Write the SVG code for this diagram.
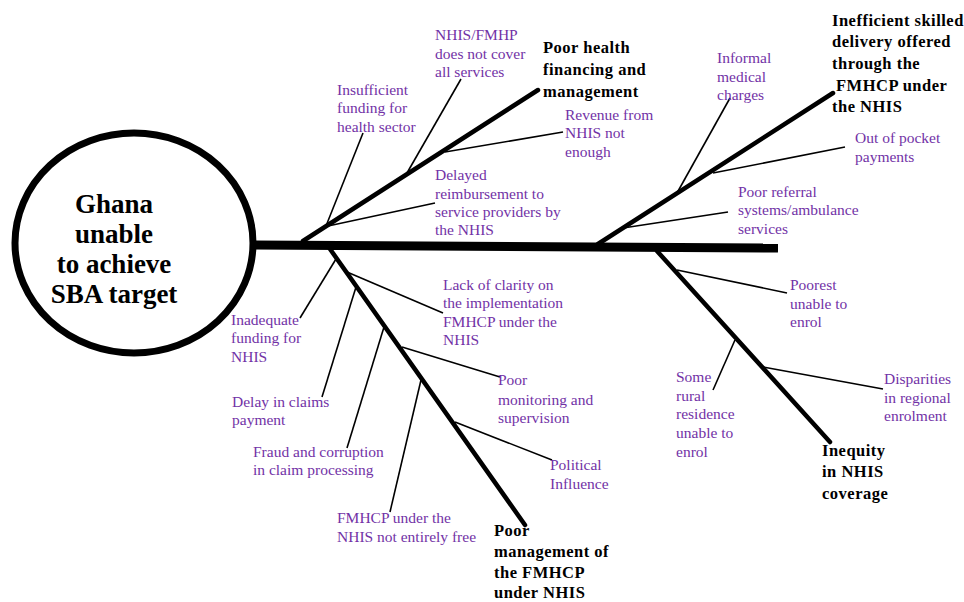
<svg xmlns="http://www.w3.org/2000/svg" width="964" height="602" viewBox="0 0 964 602">
<style>
text{font-family:'Liberation Serif','Times New Roman',serif}
.sub{font-size:15.5px;fill:#7232A6}
.cat{font-size:16.5px;font-weight:bold;fill:#000;letter-spacing:0.5px}
.head{font-size:27px;font-weight:bold;fill:#000;text-anchor:middle}
.spine{stroke:#000;stroke-width:9;fill:none}
.bone{stroke:#000;stroke-width:4.5;fill:none;stroke-linecap:round}
.rib{stroke:#000;stroke-width:1.6;fill:none}
</style>
<rect width="964" height="602" fill="#fff"/>
<g id="connectors">
<line class="spine" x1="252" y1="245" x2="778" y2="248"/>
<line class="bone" x1="303" y1="241" x2="538" y2="90"/>
<line class="bone" x1="598" y1="244" x2="833" y2="93"/>
<line class="bone" x1="330" y1="249" x2="525" y2="525"/>
<line class="bone" x1="657" y1="251" x2="830" y2="442"/>
<line class="rib" x1="326" y1="226" x2="363" y2="133"/>
<line class="rib" x1="407" y1="173" x2="461" y2="79"/>
<line class="rib" x1="445" y1="152" x2="563" y2="132"/>
<line class="rib" x1="328" y1="226" x2="435" y2="203"/>
<line class="rib" x1="677" y1="193" x2="730" y2="98"/>
<line class="rib" x1="713" y1="173" x2="845" y2="147"/>
<line class="rib" x1="623" y1="228" x2="728" y2="212"/>
<line class="rib" x1="336" y1="259" x2="300" y2="318"/>
<line class="rib" x1="356" y1="287" x2="322" y2="397"/>
<line class="rib" x1="384" y1="327" x2="347" y2="448"/>
<line class="rib" x1="421" y1="380" x2="390" y2="512"/>
<line class="rib" x1="347" y1="272" x2="443" y2="313"/>
<line class="rib" x1="402" y1="347" x2="500" y2="377"/>
<line class="rib" x1="455" y1="422" x2="552" y2="460"/>
<line class="rib" x1="677" y1="270" x2="787" y2="293"/>
<line class="rib" x1="735" y1="340" x2="713" y2="390"/>
<line class="rib" x1="763" y1="367" x2="883" y2="389"/>
</g>
<g id="head">
<ellipse cx="134" cy="243" rx="119" ry="110" fill="#fff" stroke="#000" stroke-width="7"/>
<text class="head"><tspan x="114" y="213">Ghana</tspan><tspan x="114" y="243">unable</tspan><tspan x="114" y="273">to achieve</tspan><tspan x="114" y="303">SBA target</tspan></text>
</g>
<g id="cat-financing"><text class="cat"><tspan x="543" y="53">Poor health</tspan><tspan x="543" y="75">financing and</tspan><tspan x="543" y="97">management</tspan></text></g>
<g id="cat-delivery"><text class="cat"><tspan x="832" y="26">Inefficient skilled</tspan><tspan x="832" y="47">delivery offered</tspan><tspan x="832" y="69">through the</tspan><tspan x="836" y="91">FMHCP under</tspan><tspan x="832" y="112">the NHIS</tspan></text></g>
<g id="cat-management"><text class="cat"><tspan x="494" y="536">Poor</tspan><tspan x="494" y="557">management of</tspan><tspan x="494" y="578">the FMHCP</tspan><tspan x="494" y="598">under NHIS</tspan></text></g>
<g id="cat-inequity"><text class="cat"><tspan x="822" y="456">Inequity</tspan><tspan x="822" y="477">in NHIS</tspan><tspan x="822" y="499">coverage</tspan></text></g>
<g id="c-insufficient"><text class="sub"><tspan x="337" y="95">Insufficient</tspan><tspan x="337" y="113">funding for</tspan><tspan x="337" y="132">health sector</tspan></text></g>
<g id="c-nhisfmhp"><text class="sub"><tspan x="435" y="40">NHIS/FMHP</tspan><tspan x="435" y="59">does not cover</tspan><tspan x="435" y="77">all services</tspan></text></g>
<g id="c-revenue"><text class="sub"><tspan x="565" y="120">Revenue from</tspan><tspan x="565" y="138">NHIS not</tspan><tspan x="565" y="157">enough</tspan></text></g>
<g id="c-delayed"><text class="sub"><tspan x="435" y="180">Delayed</tspan><tspan x="435" y="199">reimbursement to</tspan><tspan x="435" y="217">service providers by</tspan><tspan x="435" y="235">the NHIS</tspan></text></g>
<g id="c-informal"><text class="sub"><tspan x="717" y="63">Informal</tspan><tspan x="717" y="82">medical</tspan><tspan x="717" y="100">charges</tspan></text></g>
<g id="c-pocket"><text class="sub"><tspan x="855" y="143">Out of pocket</tspan><tspan x="855" y="162">payments</tspan></text></g>
<g id="c-referral"><text class="sub"><tspan x="738" y="197">Poor referral</tspan><tspan x="738" y="215">systems/ambulance</tspan><tspan x="738" y="234">services</tspan></text></g>
<g id="c-inadequate"><text class="sub"><tspan x="231" y="325">Inadequate</tspan><tspan x="231" y="343">funding for</tspan><tspan x="231" y="362">NHIS</tspan></text></g>
<g id="c-delay"><text class="sub"><tspan x="232" y="407">Delay in claims</tspan><tspan x="232" y="425">payment</tspan></text></g>
<g id="c-fraud"><text class="sub"><tspan x="253" y="457">Fraud and corruption</tspan><tspan x="253" y="475">in claim processing</tspan></text></g>
<g id="c-notfree"><text class="sub"><tspan x="337" y="523">FMHCP under the</tspan><tspan x="337" y="542">NHIS not entirely free</tspan></text></g>
<g id="c-clarity"><text class="sub"><tspan x="443" y="290">Lack of clarity on</tspan><tspan x="443" y="308">the implementation</tspan><tspan x="443" y="327">FMHCP under the</tspan><tspan x="443" y="345">NHIS</tspan></text></g>
<g id="c-monitoring"><text class="sub"><tspan x="498" y="385">Poor</tspan><tspan x="498" y="405">monitoring and</tspan><tspan x="498" y="423">supervision</tspan></text></g>
<g id="c-political"><text class="sub"><tspan x="550" y="470">Political</tspan><tspan x="550" y="489">Influence</tspan></text></g>
<g id="c-poorest"><text class="sub"><tspan x="790" y="290">Poorest</tspan><tspan x="790" y="309">unable to</tspan><tspan x="790" y="327">enrol</tspan></text></g>
<g id="c-rural"><text class="sub"><tspan x="676" y="382">Some</tspan><tspan x="676" y="401">rural</tspan><tspan x="676" y="419">residence</tspan><tspan x="676" y="438">unable to</tspan><tspan x="676" y="457">enrol</tspan></text></g>
<g id="c-disparities"><text class="sub"><tspan x="884" y="384">Disparities</tspan><tspan x="884" y="403">in regional</tspan><tspan x="884" y="421">enrolment</tspan></text></g>
</svg>
